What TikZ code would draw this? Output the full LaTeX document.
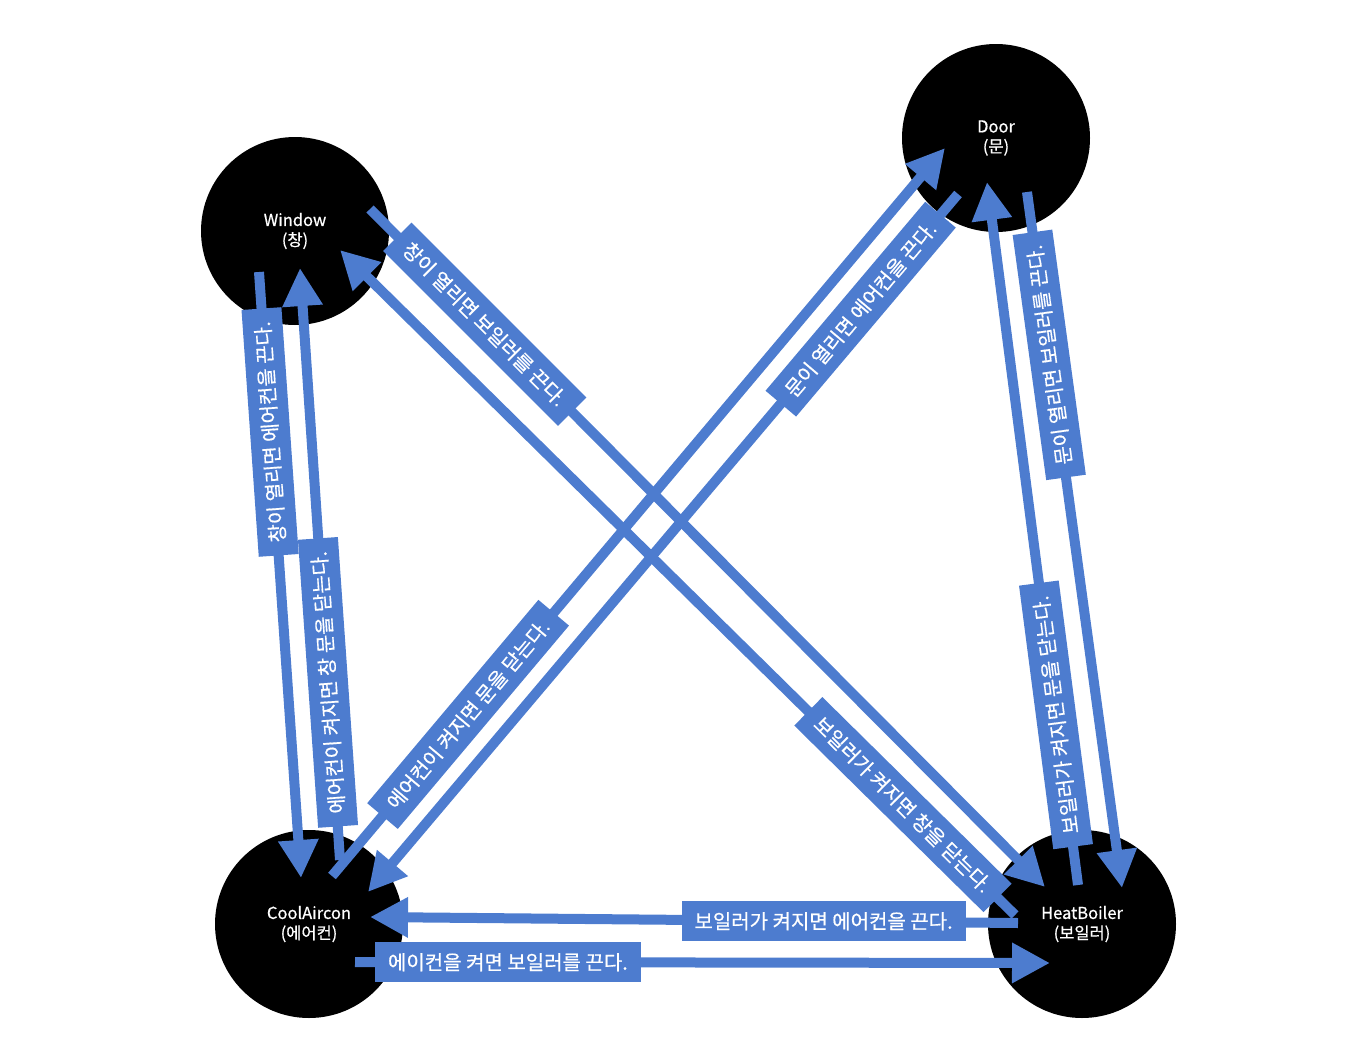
\documentclass[tikz,border=0pt]{standalone}
\usepackage{fontspec}
\setmainfont{Noto Sans CJK KR}
\newfontfamily\tagfont{Noto Sans CJK KR}[FakeBold=0.6]
\usetikzlibrary{calc, arrows.meta}
\definecolor{flowblue}{RGB}{77,124,207}
\tikzset{
  device/.style={circle, fill=black, minimum size=188pt, inner sep=0pt,
    text=white, align=center, font=\tagfont\fontsize{16.5}{20}\selectfont},
  flow/.style={flowblue, line width=10pt, -{Triangle[width=38pt,length=38pt]}},
  tag/.style={fill=flowblue, text=white, inner xsep=13pt, inner ysep=0pt,
    minimum height=40pt, font=\tagfont\fontsize{20}{24}\selectfont},
}
\begin{document}
\begin{tikzpicture}[x=1pt, y=-1pt]
\useasboundingbox (0,0) rectangle (1366,1060);
% devices
\node[device] (win) at (295,231) {Window\\(창)};
\node[device] (door) at (996,138) {Door\\(문)};
\node[device] (cool) at (309,924) {CoolAircon\\(에어컨)};
\node[device] (heat) at (1082,924) {HeatBoiler\\(보일러)};
% arrow ends
\coordinate (w1) at (259,272);
\coordinate (c1) at (301,878);
\coordinate (c2) at (340,860);
\coordinate (w2) at (300,268);
\coordinate (w3) at (370,209);
\coordinate (h3) at (1045,887);
\coordinate (h4) at (1015,915);
\coordinate (w4) at (340,250);
\coordinate (d5) at (958,194);
\coordinate (c5) at (368,892);
\coordinate (c6) at (332,876);
\coordinate (d6) at (945,148);
\coordinate (d7) at (1027,192);
\coordinate (h7) at (1122,888);
\coordinate (h8) at (1078,885);
\coordinate (d8) at (987,182);
\coordinate (h9) at (1018,923);
\coordinate (c9) at (370,917);
\coordinate (c10) at (355,962);
\coordinate (h10) at (1050,963);
% rules
\draw[flow] (w1) -- node[tag, pos=0.264, rotate=94] {창이 열리면 에어컨을 끈다.} (c1);
\draw[flow] (c2) -- node[tag, pos=0.30, rotate=94] {에어컨이 켜지면 창 문을 닫는다.} (w2);
\draw[flow] (w3) -- node[tag, pos=0.17, rotate=-45] {창이 열리면 보일러를 끈다.} (h3);
\draw[flow] (h4) -- node[tag, pos=0.166, rotate=-44.6] {보일러가 켜지면 창을 닫는다.} (w4);
\draw[flow] (d5) -- node[tag, pos=0.165, rotate=49.8] {문이 열리면 에어컨을 끈다.} (c5);
\draw[flow] (c6) -- node[tag, pos=0.222, rotate=49.9] {에어컨이 켜지면 문을 닫는다.} (d6);
\draw[flow] (d7) -- node[tag, pos=0.234, rotate=97.8] {문이 열리면 보일러를 끈다.} (h7);
\draw[flow] (h8) -- node[tag, pos=0.242, rotate=97.4] {보일러가 켜지면 문을 닫는다.} (d8);
\draw[flow] (h9) -- node[tag, pos=0.30] {보일러가 켜지면 에어컨을 끈다.} (c9);
\draw[flow] (c10) -- node[tag, pos=0.22] {에이컨을 켜면 보일러를 끈다.} (h10);
\end{tikzpicture}
\end{document}
